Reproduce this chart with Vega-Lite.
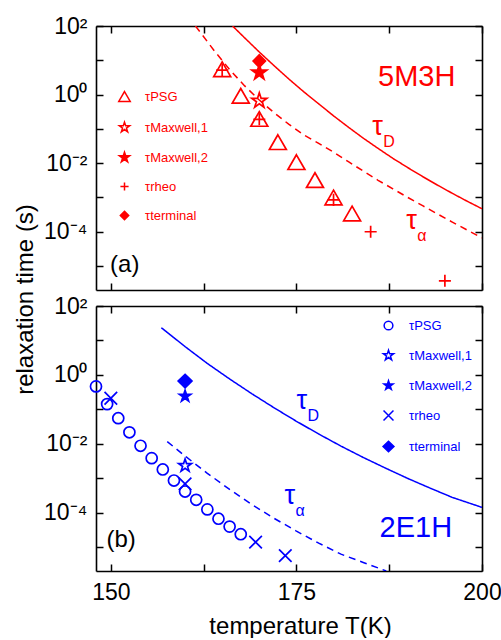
{
  "$schema": "https://vega.github.io/schema/vega-lite/v6.json",
  "autosize": {"type": "pad"},
  "padding": {"left": 13, "top": 15, "right": 0, "bottom": 0},
  "background": "white",
  "bounds": "flush",
  "spacing": 16,
  "config": {
    "view": {"stroke": null},
    "axis": {
      "grid": false, "domainColor": "#000", "domainWidth": 1.6,
      "tickColor": "#000", "tickWidth": 1.5, "tickSize": -7,
      "labelFont": "Liberation Sans", "labelFontSize": 23, "labelColor": "#000",
      "labelPadding": 16, "labelOverlap": false, "labelFlush": false,
      "titleFont": "Liberation Sans", "titleFontSize": 24, "titleFontWeight": "normal", "titleColor": "#000"
    },
    "axisX": {"labelPadding": 17},
    "text": {"font": "Liberation Sans"}
  },
  "datasets": {
    "curvesA": [
      {"curve": "D", "T": 166.4, "tau": 100},
      {"curve": "D", "T": 168, "tau": 45.7},
      {"curve": "D", "T": 170, "tau": 17.4},
      {"curve": "D", "T": 172, "tau": 6.92},
      {"curve": "D", "T": 174, "tau": 2.82},
      {"curve": "D", "T": 176, "tau": 1.2},
      {"curve": "D", "T": 178, "tau": 0.537},
      {"curve": "D", "T": 180, "tau": 0.24},
      {"curve": "D", "T": 182, "tau": 0.112},
      {"curve": "D", "T": 184, "tau": 0.0537},
      {"curve": "D", "T": 186, "tau": 0.0269},
      {"curve": "D", "T": 188, "tau": 0.0138},
      {"curve": "D", "T": 190, "tau": 0.00741},
      {"curve": "D", "T": 192, "tau": 0.00407},
      {"curve": "D", "T": 194, "tau": 0.00229},
      {"curve": "D", "T": 196, "tau": 0.00132},
      {"curve": "D", "T": 198, "tau": 0.000776},
      {"curve": "D", "T": 200, "tau": 0.000468},
      {"curve": "alpha", "T": 161.4, "tau": 100},
      {"curve": "alpha", "T": 162, "tau": 67.6},
      {"curve": "alpha", "T": 164, "tau": 18.2},
      {"curve": "alpha", "T": 166, "tau": 5.37},
      {"curve": "alpha", "T": 168, "tau": 1.82},
      {"curve": "alpha", "T": 170, "tau": 0.692},
      {"curve": "alpha", "T": 172, "tau": 0.295},
      {"curve": "alpha", "T": 174, "tau": 0.135},
      {"curve": "alpha", "T": 176, "tau": 0.0661},
      {"curve": "alpha", "T": 178, "tau": 0.038},
      {"curve": "alpha", "T": 180, "tau": 0.0209},
      {"curve": "alpha", "T": 182, "tau": 0.011},
      {"curve": "alpha", "T": 184, "tau": 0.00589},
      {"curve": "alpha", "T": 186, "tau": 0.00316},
      {"curve": "alpha", "T": 188, "tau": 0.00178},
      {"curve": "alpha", "T": 190, "tau": 0.001},
      {"curve": "alpha", "T": 192, "tau": 0.000575},
      {"curve": "alpha", "T": 194, "tau": 0.000331},
      {"curve": "alpha", "T": 196, "tau": 0.000191},
      {"curve": "alpha", "T": 198, "tau": 0.000112},
      {"curve": "alpha", "T": 200, "tau": 0.0000661}
    ],
    "ptsA": [
      {"series": "PSG", "T": 165, "tau": 5.5},
      {"series": "PSG", "T": 167.5, "tau": 0.92},
      {"series": "PSG", "T": 170, "tau": 0.195},
      {"series": "PSG", "T": 172.5, "tau": 0.041},
      {"series": "PSG", "T": 175, "tau": 0.0107},
      {"series": "PSG", "T": 177.5, "tau": 0.0032},
      {"series": "PSG", "T": 180, "tau": 0.001},
      {"series": "PSG", "T": 182.5, "tau": 0.00034},
      {"series": "Maxwell,1", "T": 170, "tau": 0.66},
      {"series": "Maxwell,2", "T": 170, "tau": 4.4},
      {"series": "rheo", "T": 165, "tau": 5.2},
      {"series": "rheo", "T": 170, "tau": 0.19},
      {"series": "rheo", "T": 180, "tau": 0.00085},
      {"series": "rheo", "T": 185, "tau": 0.0001},
      {"series": "rheo", "T": 195, "tau": 0.0000037},
      {"series": "terminal", "T": 170, "tau": 9.5}
    ],
    "textA": [
      {"kind": "name", "T": 186.0, "tau": 1.8, "text": "5M3H"},
      {"kind": "panel", "T": 149.9, "tau": 0.0000068, "text": "(a)"},
      {"kind": "tau", "T": 185.2, "tau": 0.066, "sub": "D"},
      {"kind": "tau", "T": 189.8, "tau": 0.000123, "sub": "α"}
    ],
    "curvesB": [
      {"curve": "D", "T": 156.8, "tau": 23.4},
      {"curve": "D", "T": 160, "tau": 6.61},
      {"curve": "D", "T": 163, "tau": 2.14},
      {"curve": "D", "T": 166, "tau": 0.759},
      {"curve": "D", "T": 169, "tau": 0.282},
      {"curve": "D", "T": 172, "tau": 0.11},
      {"curve": "D", "T": 175, "tau": 0.0447},
      {"curve": "D", "T": 178, "tau": 0.0191},
      {"curve": "D", "T": 181, "tau": 0.00851},
      {"curve": "D", "T": 184, "tau": 0.00398},
      {"curve": "D", "T": 187, "tau": 0.00195},
      {"curve": "D", "T": 190, "tau": 0.000977},
      {"curve": "D", "T": 193, "tau": 0.000513},
      {"curve": "D", "T": 196, "tau": 0.000275},
      {"curve": "D", "T": 200, "tau": 0.000141},
      {"curve": "alpha", "T": 157.6, "tau": 0.0115},
      {"curve": "alpha", "T": 160, "tau": 0.00437},
      {"curve": "alpha", "T": 163, "tau": 0.00138},
      {"curve": "alpha", "T": 166, "tau": 0.000468},
      {"curve": "alpha", "T": 169, "tau": 0.00017},
      {"curve": "alpha", "T": 172, "tau": 0.0000676},
      {"curve": "alpha", "T": 175, "tau": 0.0000288},
      {"curve": "alpha", "T": 178, "tau": 0.0000129},
      {"curve": "alpha", "T": 181, "tau": 0.00000617},
      {"curve": "alpha", "T": 184, "tau": 0.00000355},
      {"curve": "alpha", "T": 187.1, "tau": 0.000002}
    ],
    "ptsB": [
      {"series": "PSG", "T": 148, "tau": 0.461},
      {"series": "PSG", "T": 149.5, "tau": 0.141},
      {"series": "PSG", "T": 151, "tau": 0.055},
      {"series": "PSG", "T": 152.5, "tau": 0.0214},
      {"series": "PSG", "T": 154, "tau": 0.0087},
      {"series": "PSG", "T": 155.5, "tau": 0.0038},
      {"series": "PSG", "T": 157, "tau": 0.00178},
      {"series": "PSG", "T": 158.5, "tau": 0.00085},
      {"series": "PSG", "T": 160, "tau": 0.000407},
      {"series": "PSG", "T": 161.5, "tau": 0.000234},
      {"series": "PSG", "T": 163, "tau": 0.000123},
      {"series": "PSG", "T": 164.5, "tau": 0.000066},
      {"series": "PSG", "T": 166, "tau": 0.000039},
      {"series": "PSG", "T": 167.5, "tau": 0.0000234},
      {"series": "Maxwell,1", "T": 160, "tau": 0.0023},
      {"series": "Maxwell,2", "T": 160, "tau": 0.24},
      {"series": "rheo", "T": 150, "tau": 0.209},
      {"series": "rheo", "T": 160, "tau": 0.00068},
      {"series": "rheo", "T": 169.5, "tau": 0.0000138},
      {"series": "rheo", "T": 173.5, "tau": 0.0000056},
      {"series": "terminal", "T": 160, "tau": 0.66}
    ],
    "textB": [
      {"kind": "name", "T": 186.2, "tau": 0.0000195, "text": "2E1H"},
      {"kind": "panel", "T": 149.4, "tau": 0.00001, "text": "(b)"},
      {"kind": "tau", "T": 175.0, "tau": 0.1, "sub": "D"},
      {"kind": "tau", "T": 173.4, "tau": 0.000178, "sub": "α"}
    ]
  },
  "vconcat": [
    {
      "width": 386, "height": 264,
      "resolve": {"axis": {"x": "independent", "y": "independent"}},
      "layer": [
        {
          "data": {"name": "curvesA"},
          "mark": {"type": "line", "color": "#ff0000", "strokeWidth": 1.5, "clip": true},
          "encoding": {
            "x": {"field": "T", "type": "quantitative", "scale": {"domain": [148, 200], "nice": false, "zero": false},
                  "axis": {"orient": "bottom", "values": [150, 162.5, 175, 187.5, 200], "labels": false, "title": null}},
            "y": {"field": "tau", "type": "quantitative", "scale": {"type": "log", "domain": [0.000002, 100], "nice": false},
                  "axis": {"orient": "left", "values": [0.00001, 0.0001, 0.001, 0.01, 0.1, 1, 10, 100],
                           "labelExpr": "datum.value === 100 ? '10²' : datum.value === 1 ? '10⁰' : datum.value === 0.01 ? '10⁻²' : datum.value === 0.0001 ? '10⁻⁴' : ''",
                           "title": "relaxation time (s)", "titleX": -64, "titleY": 273, "titleAngle": -90, "titleAlign": "center", "titleBaseline": "alphabetic"}},
            "strokeDash": {"field": "curve", "type": "nominal", "scale": {"domain": ["D", "alpha"], "range": [[1, 0], [7, 5]]}, "legend": null}
          }
        },
        {
          "data": {"name": "ptsA"},
          "mark": {"type": "point", "color": "#ff0000", "strokeWidth": 1.7, "opacity": 1, "filled": false, "size": 196},
          "encoding": {
            "x": {"field": "T", "type": "quantitative", "scale": {"domain": [148, 200], "nice": false, "zero": false},
                  "axis": {"orient": "top", "values": [150, 162.5, 175, 187.5, 200], "labels": false, "title": null}},
            "y": {"field": "tau", "type": "quantitative", "scale": {"type": "log", "domain": [0.000002, 100], "nice": false},
                  "axis": {"orient": "right", "values": [0.00001, 0.0001, 0.001, 0.01, 0.1, 1, 10, 100], "labels": false, "title": null}},
            "shape": {"field": "series", "type": "nominal",
                      "scale": {"domain": ["PSG", "Maxwell,1", "Maxwell,2", "rheo", "terminal"],
                                "range": ["M0,-1.048L1.21,1.048L-1.21,1.048Z",
                                          "M0,-1.13L0.254,-0.349L1.075,-0.349L0.41,0.133L0.664,0.914L0,0.432L-0.664,0.914L-0.41,0.133L-1.075,-0.349L-0.254,-0.349Z",
                                          "M0,-1.13L0.254,-0.349L1.075,-0.349L0.41,0.133L0.664,0.914L0,0.432L-0.664,0.914L-0.41,0.133L-1.075,-0.349L-0.254,-0.349Z",
                                          "M-0.86,0L0.86,0M0,-0.86L0,0.86",
                                          "M0,-0.9L0.88,0L0,0.9L-0.88,0Z"]},
                      "legend": {"title": null, "orient": "none", "legendX": 22, "legendY": 64, "padding": 0,
                                 "labelExpr": "'τ' + datum.label", "labelColor": "#ff0000", "labelFont": "Liberation Sans", "labelFontSize": 13,
                                 "symbolSize": 90, "rowPadding": 14, "labelOffset": 14}},
            "fill": {"field": "series", "type": "nominal",
                     "scale": {"domain": ["PSG", "Maxwell,1", "Maxwell,2", "rheo", "terminal"],
                               "range": ["transparent", "transparent", "#ff0000", "transparent", "#ff0000"]},
                     "legend": {"title": null, "orient": "none", "legendX": 22, "legendY": 64, "padding": 0,
                                "labelExpr": "'τ' + datum.label", "labelColor": "#ff0000", "labelFont": "Liberation Sans", "labelFontSize": 13,
                                "symbolSize": 90, "rowPadding": 14, "labelOffset": 14}}
          }
        },
        {
          "data": {"name": "textA"},
          "transform": [{"filter": "datum.kind === 'name'"}],
          "mark": {"type": "text", "align": "left", "baseline": "alphabetic", "fontSize": 29, "color": "#ff0000"},
          "encoding": {
            "x": {"field": "T", "type": "quantitative", "axis": null},
            "y": {"field": "tau", "type": "quantitative", "axis": null},
            "text": {"field": "text"}
          }
        },
        {
          "data": {"name": "textA"},
          "transform": [{"filter": "datum.kind === 'panel'"}],
          "mark": {"type": "text", "align": "left", "baseline": "alphabetic", "fontSize": 24, "color": "#000"},
          "encoding": {
            "x": {"field": "T", "type": "quantitative", "axis": null},
            "y": {"field": "tau", "type": "quantitative", "axis": null},
            "text": {"field": "text"}
          }
        },
        {
          "data": {"name": "textA"},
          "transform": [{"filter": "datum.kind === 'tau'"}],
          "mark": {"type": "text", "align": "left", "baseline": "alphabetic", "fontSize": 27, "color": "#ff0000"},
          "encoding": {
            "x": {"field": "T", "type": "quantitative", "axis": null},
            "y": {"field": "tau", "type": "quantitative", "axis": null},
            "text": {"value": "τ"}
          }
        },
        {
          "data": {"name": "textA"},
          "transform": [{"filter": "datum.kind === 'tau'"}],
          "mark": {"type": "text", "align": "left", "baseline": "alphabetic", "fontSize": 16, "color": "#ff0000", "dx": 11, "dy": 12},
          "encoding": {
            "x": {"field": "T", "type": "quantitative", "axis": null},
            "y": {"field": "tau", "type": "quantitative", "axis": null},
            "text": {"field": "sub"}
          }
        }
      ]
    },
    {
      "width": 386, "height": 265,
      "resolve": {"axis": {"x": "independent", "y": "independent"}},
      "layer": [
        {
          "data": {"name": "curvesB"},
          "mark": {"type": "line", "color": "#0000ff", "strokeWidth": 1.5, "clip": true},
          "encoding": {
            "x": {"field": "T", "type": "quantitative", "scale": {"domain": [148, 200], "nice": false, "zero": false},
                  "axis": {"orient": "bottom", "values": [150, 162.5, 175, 187.5, 200],
                           "labelExpr": "datum.value % 25 === 0 ? datum.label : ''",
                           "title": "temperature T(K)", "titleX": 204, "titleY": 62, "titleAlign": "center", "titleBaseline": "alphabetic"}},
            "y": {"field": "tau", "type": "quantitative", "scale": {"type": "log", "domain": [0.000002, 100], "nice": false},
                  "axis": {"orient": "left", "values": [0.00001, 0.0001, 0.001, 0.01, 0.1, 1, 10, 100],
                           "labelExpr": "datum.value === 100 ? '10²' : datum.value === 1 ? '10⁰' : datum.value === 0.01 ? '10⁻²' : datum.value === 0.0001 ? '10⁻⁴' : ''",
                           "title": null}},
            "strokeDash": {"field": "curve", "type": "nominal", "scale": {"domain": ["D", "alpha"], "range": [[1, 0], [7, 5]]}, "legend": null}
          }
        },
        {
          "data": {"name": "ptsB"},
          "mark": {"type": "point", "color": "#0000ff", "strokeWidth": 1.7, "opacity": 1, "filled": false, "size": 144},
          "encoding": {
            "x": {"field": "T", "type": "quantitative", "scale": {"domain": [148, 200], "nice": false, "zero": false},
                  "axis": {"orient": "top", "values": [150, 162.5, 175, 187.5, 200], "labels": false, "title": null}},
            "y": {"field": "tau", "type": "quantitative", "scale": {"type": "log", "domain": [0.000002, 100], "nice": false},
                  "axis": {"orient": "right", "values": [0.00001, 0.0001, 0.001, 0.01, 0.1, 1, 10, 100], "labels": false, "title": null}},
            "shape": {"field": "series", "type": "nominal",
                      "scale": {"domain": ["PSG", "Maxwell,1", "Maxwell,2", "rheo", "terminal"],
                                "range": ["M0.92,0A0.92,0.92,0,1,1,-0.92,0A0.92,0.92,0,1,1,0.92,0Z",
                                          "M0,-1.12L0.251,-0.346L1.065,-0.346L0.407,0.132L0.659,0.906L0,0.428L-0.659,0.906L-0.407,0.132L-1.065,-0.346L-0.251,-0.346Z",
                                          "M0,-1L0.2245,-0.309L0.951,-0.309L0.363,0.118L0.588,0.809L0,0.382L-0.588,0.809L-0.363,0.118L-0.951,-0.309L-0.2245,-0.309Z",
                                          "M-1.05,-1.05L1.05,1.05M-1.05,1.05L1.05,-1.05",
                                          "M0,-1.12L1.15,0L0,1.12L-1.15,0Z"]},
                      "legend": {"title": null, "orient": "none", "legendX": 286, "legendY": 13, "padding": 0,
                                 "labelExpr": "'τ' + datum.label", "labelColor": "#0000ff", "labelFont": "Liberation Sans", "labelFontSize": 13,
                                 "symbolSize": 90, "rowPadding": 14, "labelOffset": 14}},
            "fill": {"field": "series", "type": "nominal",
                     "scale": {"domain": ["PSG", "Maxwell,1", "Maxwell,2", "rheo", "terminal"],
                               "range": ["transparent", "transparent", "#0000ff", "transparent", "#0000ff"]},
                     "legend": {"title": null, "orient": "none", "legendX": 286, "legendY": 13, "padding": 0,
                                "labelExpr": "'τ' + datum.label", "labelColor": "#0000ff", "labelFont": "Liberation Sans", "labelFontSize": 13,
                                "symbolSize": 90, "rowPadding": 14, "labelOffset": 14}}
          }
        },
        {
          "data": {"name": "textB"},
          "transform": [{"filter": "datum.kind === 'name'"}],
          "mark": {"type": "text", "align": "left", "baseline": "alphabetic", "fontSize": 29, "color": "#0000ff"},
          "encoding": {
            "x": {"field": "T", "type": "quantitative", "axis": null},
            "y": {"field": "tau", "type": "quantitative", "axis": null},
            "text": {"field": "text"}
          }
        },
        {
          "data": {"name": "textB"},
          "transform": [{"filter": "datum.kind === 'panel'"}],
          "mark": {"type": "text", "align": "left", "baseline": "alphabetic", "fontSize": 24, "color": "#000"},
          "encoding": {
            "x": {"field": "T", "type": "quantitative", "axis": null},
            "y": {"field": "tau", "type": "quantitative", "axis": null},
            "text": {"field": "text"}
          }
        },
        {
          "data": {"name": "textB"},
          "transform": [{"filter": "datum.kind === 'tau'"}],
          "mark": {"type": "text", "align": "left", "baseline": "alphabetic", "fontSize": 27, "color": "#0000ff"},
          "encoding": {
            "x": {"field": "T", "type": "quantitative", "axis": null},
            "y": {"field": "tau", "type": "quantitative", "axis": null},
            "text": {"value": "τ"}
          }
        },
        {
          "data": {"name": "textB"},
          "transform": [{"filter": "datum.kind === 'tau'"}],
          "mark": {"type": "text", "align": "left", "baseline": "alphabetic", "fontSize": 16, "color": "#0000ff", "dx": 11, "dy": 12},
          "encoding": {
            "x": {"field": "T", "type": "quantitative", "axis": null},
            "y": {"field": "tau", "type": "quantitative", "axis": null},
            "text": {"field": "sub"}
          }
        }
      ]
    }
  ],
  "resolve": {"scale": {"x": "independent", "y": "independent", "shape": "independent", "fill": "independent", "strokeDash": "independent"}}
}
